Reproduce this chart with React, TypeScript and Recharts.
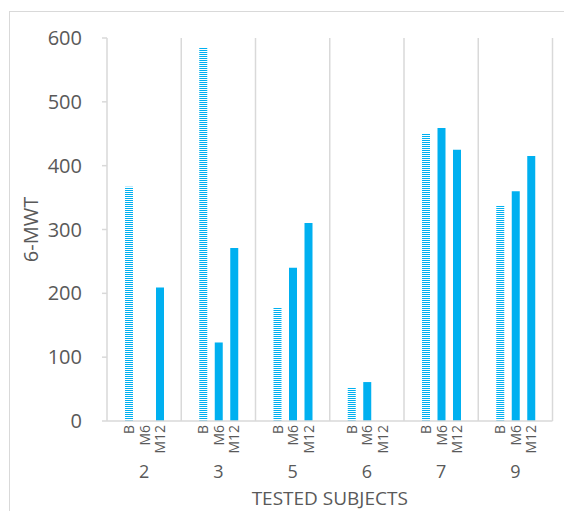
import { BarChart, Bar, XAxis, YAxis, CartesianGrid } from "recharts";

const SUBJECTS = ["2", "3", "5", "6", "7", "9"];
const TIMEPOINTS = ["B", "M6", "M12"];
const BASELINE = [367, 585, 177, 52, 451, 338];
const MONTH6 = [null, 123, 240, 61, 459, 360];
const MONTH12 = [209, 271, 310, null, 425, 415];
const Y_TICKS = [0, 100, 200, 300, 400, 500, 600];

const BLUE = "#00B0F0";
const TEXT = "#595959";
const GRID = "#d9d9d9";
const FONT = "'Open Sans', sans-serif";

const data = SUBJECTS.map((s, i) => ({
  subject: s,
  B: BASELINE[i],
  M6: MONTH6[i],
  M12: MONTH12[i],
}));

const BAR_SIZE = 8;
const BAR_GAP = 7.5;

function SubjectTick(props: any) {
  const { x, y, payload } = props;
  const step = BAR_SIZE + BAR_GAP;
  return (
    <g>
      {TIMEPOINTS.map((t, i) => (
        <text
          key={t}
          transform={`translate(${x + (i - 1) * step}, ${y + 4}) rotate(-90)`}
          textAnchor="end"
          dominantBaseline="central"
          fontSize={14}
          fill={TEXT}
        >
          {t}
        </text>
      ))}
      <text x={x} y={y + 57} textAnchor="middle" fontSize={18} fill={TEXT}>
        {payload.value}
      </text>
    </g>
  );
}

function YTitle(props: any) {
  const vb = props.viewBox || {};
  const cy = (vb.y ?? 0) + (vb.height ?? 0) / 2;
  return (
    <text
      transform={`translate(30, ${cy}) rotate(-90)`}
      textAnchor="middle"
      dominantBaseline="central"
      fontSize={20}
      fill={TEXT}
    >
      6-MWT
    </text>
  );
}

export default function App() {
  return (
    <div
      style={{
        position: "relative",
        width: 564,
        height: 511,
        overflow: "hidden",
        fontFamily: FONT,
        background: "#fff",
      }}
    >
      <style>{`body{margin:0;overflow:hidden}`}</style>
      <svg width={0} height={0} style={{ position: "absolute" }}>
        <defs>
          <pattern id="stripes" width={8} height={2} patternUnits="userSpaceOnUse">
            <rect width={8} height={2} fill="#ffffff" />
            <rect width={8} height={1} fill={BLUE} />
          </pattern>
        </defs>
      </svg>
      <div
        style={{
          position: "absolute",
          left: 9,
          top: 11,
          width: 700,
          height: 700,
          borderLeft: `1px solid ${GRID}`,
          borderTop: `1px solid ${GRID}`,
        }}
      />
      <div style={{ position: "absolute", left: 0, top: 0 }}>
        <BarChart
          width={564}
          height={511}
          data={data}
          margin={{ top: 38, right: 11.5, bottom: 0, left: 0 }}
          barSize={BAR_SIZE}
          barGap={BAR_GAP}
        >
          <CartesianGrid
            horizontal={false}
            stroke={GRID}
            strokeWidth={1.5}
            verticalCoordinatesGenerator={({ offset }: any) =>
              SUBJECTS.map((_, i) => offset.left + ((i + 1) * offset.width) / SUBJECTS.length)
            }
          />
          <XAxis
            dataKey="subject"
            height={90}
            axisLine={{ stroke: GRID, strokeWidth: 1.5 }}
            tickLine={false}
            tickSize={0}
            tickMargin={0}
            interval={0}
            tick={<SubjectTick />}
            label={{
              value: "TESTED SUBJECTS",
              position: "insideBottom",
              offset: 6,
              fontSize: 19,
              fill: TEXT,
            }}
          />
          <YAxis
            width={107}
            domain={[0, 600]}
            ticks={Y_TICKS}
            interval={0}
            axisLine={{ stroke: GRID, strokeWidth: 1.5 }}
            tickLine={{ stroke: GRID, strokeWidth: 1.5 }}
            tickSize={5}
            tickMargin={20}
            tick={{ fontSize: 20, fill: TEXT }}
            label={{ content: <YTitle /> }}
          />
          <Bar dataKey="B" fill="url(#stripes)" isAnimationActive={false} />
          <Bar dataKey="M6" fill={BLUE} isAnimationActive={false} />
          <Bar dataKey="M12" fill={BLUE} isAnimationActive={false} />
        </BarChart>
      </div>
    </div>
  );
}
